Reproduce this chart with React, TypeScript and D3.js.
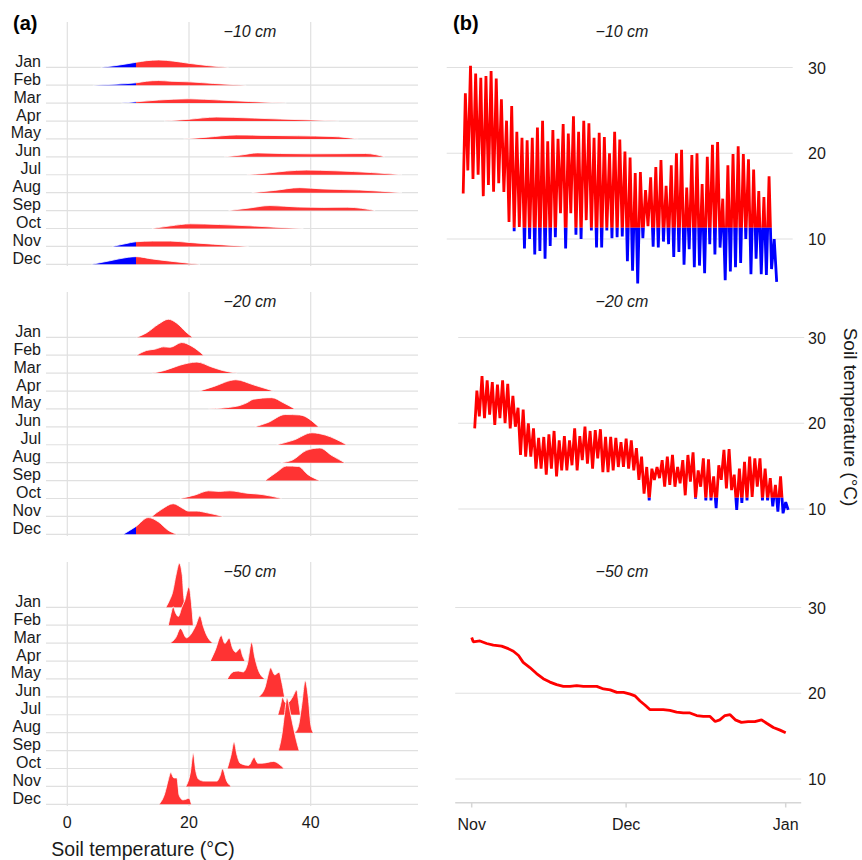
import React from "react";
import * as d3 from "d3";

type Pt = [number, number];

const months = ["Jan", "Feb", "Mar", "Apr", "May", "Jun", "Jul", "Aug", "Sep", "Oct", "Nov", "Dec"];
const depthLabels = ["\u221210 cm", "\u221220 cm", "\u221250 cm"];
const tempTicks = [0, 20, 40];
const seriesTicks = [10, 20, 30];
const dateTicks = [new Date(2019, 10, 1), new Date(2019, 11, 1), new Date(2020, 0, 1)];
const dateTickLabels = ["Nov", "Dec", "Jan"];
const coldLimit = 11.3;

// monthly temperature densities, [°C, density], Jan..Dec
const ridge10: Pt[][] = [
  [[5.5, 0], [8, 0.02], [11.3, 0.057], [13, 0.075], [15, 0.083], [17.5, 0.07], [20, 0.045], [23, 0.02], [26.5, 0]],
  [[4.2, 0], [8, 0.012], [11.3, 0.027], [13, 0.045], [15, 0.053], [17, 0.045], [20, 0.038], [24, 0.02], [29.4, 0]],
  [[8.9, 0], [11.3, 0.015], [15, 0.035], [20, 0.049], [25, 0.035], [30, 0.018], [36, 0]],
  [[15.9, 0], [20, 0.02], [24.5, 0.045], [30, 0.035], [35, 0.022], [40, 0.012], [44.6, 0]],
  [[19.1, 0], [23, 0.02], [27.8, 0.045], [33, 0.04], [38, 0.035], [43.5, 0.028], [47.8, 0]],
  [[25.8, 0], [28.5, 0.02], [31.3, 0.045], [35, 0.038], [40, 0.034], [45, 0.036], [49, 0.038], [52.2, 0]],
  [[29.5, 0], [33, 0.02], [36, 0.042], [39.3, 0.053], [44, 0.045], [50, 0.025], [55, 0]],
  [[30.3, 0], [34, 0.025], [38.2, 0.057], [42, 0.042], [48, 0.03], [55, 0]],
  [[26.5, 0], [30, 0.03], [33.3, 0.057], [38, 0.04], [42, 0.036], [46, 0.038], [50.6, 0]],
  [[13.9, 0], [17, 0.03], [20.2, 0.053], [25, 0.045], [30, 0.03], [34, 0.015], [38.8, 0]],
  [[7.4, 0], [9.5, 0.03], [11.3, 0.053], [14, 0.06], [17, 0.06], [20, 0.045], [24, 0.025], [29.8, 0]],
  [[4.0, 0], [7, 0.04], [10, 0.08], [11.3, 0.087], [14, 0.06], [17, 0.035], [20, 0.012], [21.8, 0]],
];

const ridge20: Pt[][] = [
  [[11.4, 0], [13, 0.05], [15, 0.15], [16.6, 0.205], [18, 0.16], [19.5, 0.06], [20.6, 0]],
  [[11.4, 0], [13, 0.053], [14.5, 0.07], [15.8, 0.095], [16.9, 0.09], [18.8, 0.144], [20.5, 0.1], [22.4, 0]],
  [[13.9, 0], [16, 0.03], [18.5, 0.09], [21.3, 0.125], [23.7, 0.07], [25.5, 0.03], [27.9, 0]],
  [[21.7, 0], [24, 0.05], [27.7, 0.128], [30.6, 0.07], [33.9, 0]],
  [[23.2, 0], [27.8, 0.03], [29.5, 0.07], [30.6, 0.11], [33.6, 0.128], [35.5, 0.07], [37.4, 0]],
  [[30.8, 0], [33, 0.05], [35.8, 0.14], [38.2, 0.135], [41.3, 0]],
  [[34.4, 0], [37.2, 0.053], [40.2, 0.136], [42.4, 0.11], [45.9, 0]],
  [[35.1, 0], [37, 0.03], [39.3, 0.14], [41.5, 0.167], [43.5, 0.08], [45.6, 0]],
  [[32.5, 0], [34.5, 0.1], [36, 0.165], [38, 0.16], [39.5, 0.07], [41.5, 0]],
  [[18.5, 0], [21, 0.04], [23.2, 0.087], [25, 0.08], [26.7, 0.087], [29.5, 0.06], [32, 0.045], [35.2, 0]],
  [[13.9, 0], [15.5, 0.08], [17.4, 0.144], [19, 0.09], [19.9, 0.06], [21.3, 0.06], [23, 0.04], [25.6, 0]],
  [[9.2, 0], [11.3, 0.09], [13.3, 0.19], [15, 0.14], [16.5, 0.05], [18, 0]],
];

const ridge50: Pt[][] = [
  [[16.2, 0], [16.8, 0.08], [17.3, 0.17], [17.9, 0.38], [18.4, 0.5], [18.9, 0.36], [19.1, 0.15], [19.4, 0]],
  [[16.6, 0], [17.0, 0.12], [17.4, 0.21], [17.8, 0.14], [18.25, 0.1], [18.8, 0.2], [19.3, 0.28], [20, 0.44], [20.4, 0.25], [20.7, 0]],
  [[16.9, 0], [17.8, 0.06], [18.6, 0.167], [19.6, 0.06], [20.3, 0.1], [21.1, 0.2], [21.8, 0.31], [22.4, 0.18], [22.9, 0.09], [23.9, 0]],
  [[23.5, 0], [24.3, 0.12], [25.3, 0.29], [25.9, 0.2], [26.6, 0.26], [27.2, 0.14], [27.7, 0.1], [28.4, 0.145], [28.8, 0.06], [29.2, 0]],
  [[26.3, 0], [27.3, 0.083], [28.1, 0.09], [28.9, 0.08], [29.6, 0.17], [30.3, 0.42], [30.8, 0.25], [31.4, 0.1], [32.5, 0]],
  [[31.4, 0], [32.5, 0.11], [33.0, 0.25], [33.4, 0.33], [34.1, 0.25], [34.8, 0.28], [35.3, 0.15], [35.7, 0]],
  [[34.6, 0], [35.0, 0.1], [35.4, 0.2], [35.8, 0.14], [36.3, 0.14], [37.0, 0.2], [37.7, 0.28], [38.0, 0.15], [38.3, 0]],
  [[37.4, 0], [38.0, 0.08], [38.5, 0.3], [39.1, 0.59], [39.6, 0.4], [40.0, 0.1], [40.4, 0]],
  [[34.7, 0], [35.3, 0.2], [35.7, 0.42], [36.1, 0.6], [36.6, 0.45], [37.2, 0.25], [37.7, 0.1], [38.1, 0]],
  [[26.3, 0], [26.9, 0.15], [27.4, 0.3], [27.9, 0.15], [28.4, 0.06], [29.8, 0.035], [30.7, 0.125], [31.3, 0.06], [32, 0.06], [33.9, 0.08], [34.8, 0.05], [35.6, 0]],
  [[19.5, 0], [20.2, 0.15], [20.7, 0.38], [21.1, 0.18], [21.6, 0.08], [22.5, 0.06], [24.6, 0.06], [25.1, 0.12], [25.5, 0.2], [26.2, 0.06], [26.9, 0]],
  [[15.1, 0], [16, 0.12], [16.6, 0.28], [17, 0.36], [17.5, 0.3], [18, 0.3], [18.4, 0.1], [19, 0.05], [19.6, 0.06], [20, 0.07], [20.4, 0]],
];

// Nov 1 - Dec 31: daily maxima and minima
const start10 = 15.3;
const max10 = [
  27.0, 30.2, 29.3, 28.8, 29.0, 29.6, 28.7, 26.3, 23.8, 25.5, 22.5, 21.8, 21.5, 21.8, 23.0, 23.8, 21.4, 22.7, 21.7, 23.4,
  22.3, 24.3, 22.5, 23.8, 23.5, 21.8, 22.4, 21.9, 20.0, 22.5, 21.6, 20.2, 19.5, 17.7, 17.8, 15.7, 17.2, 18.4, 19.2, 16.2,
  18.6, 20.0, 20.4, 16.0, 19.8, 20.0, 16.4, 19.6, 21.0, 21.3, 14.7, 18.6, 19.9, 20.8, 19.9, 19.3, 18.1, 15.6, 14.9, 17.3,
  10.0,
];
const min10 = [
  18.0, 17.0, 17.5, 15.0, 16.3, 15.5, 16.5, 15.5, 12.0, 10.9, 11.4, 8.9, 10.0, 8.2, 8.6, 7.7, 9.2, 10.2, 13.0, 8.9,
  13.0, 10.5, 10.0, 12.2, 11.0, 9.0, 9.0, 11.0, 10.1, 10.2, 10.3, 7.4, 6.3, 4.8, 10.1, 11.5, 9.1, 9.0, 9.7, 9.4,
  7.9, 8.5, 7.0, 8.8, 6.7, 6.9, 6.0, 9.4, 8.2, 9.0, 5.2, 6.2, 6.7, 7.2, 10.0, 5.9, 7.7, 5.9, 5.8, 6.5,
  5.0,
];

const start20 = 19.4;
const max20 = [
  23.8, 25.5, 25.0, 24.8, 24.5, 25.0, 24.6, 23.2, 21.8, 21.6, 20.0, 19.4, 18.3, 18.4, 18.7, 19.1, 18.0, 18.5, 18.0, 19.4,
  18.5, 19.6, 19.1, 19.2, 19.3, 18.4, 18.4, 18.3, 17.8, 18.2, 18.0, 17.1, 16.1, 14.9, 14.7, 14.9, 15.7, 16.1, 16.3, 14.9,
  15.7, 16.3, 16.6, 14.5, 15.9, 15.8, 13.8, 15.1, 16.9, 17.0, 14.0, 14.7, 15.5, 16.1, 15.9, 15.9, 14.7, 13.6, 12.8, 13.8,
  10.8,
];
const min20 = [
  20.8, 20.6, 21.0, 19.8, 20.6, 20.0, 19.4, 19.6, 16.3, 16.1, 16.1, 14.7, 14.7, 14.0, 14.7, 13.8, 14.5, 14.5, 15.1, 14.5,
  15.7, 15.3, 14.7, 15.9, 14.3, 14.3, 14.5, 14.9, 14.9, 14.7, 14.5, 13.4, 11.8, 11.0, 13.4, 13.6, 12.6, 12.8, 12.6, 13.0,
  11.6, 13.2, 11.2, 12.6, 11.0, 11.0, 10.1, 13.4, 12.4, 12.2, 9.9, 10.7, 11.0, 11.4, 12.6, 11.0, 11.0, 10.3, 9.7, 9.5,
  9.9,
];

// -50 cm: days since Nov 1 and temperature
const day50 = [
  0, 0.3, 1.6, 2.9, 4.2, 5.8, 7.1, 8.1, 9.1, 10.0, 11.3, 12.6, 13.9, 15.2, 16.5, 17.8, 19.1, 20.4, 21.7, 23.0,
  24.3, 25.6, 26.9, 28.2, 29.5, 30.8, 31.7, 32.7, 33.7, 34.6, 35.9, 37.2, 38.5, 39.8, 41.1, 42.4, 43.7, 45.0, 46.3, 47.3,
  48.2, 49.2, 50.2, 51.2, 52.4, 53.7, 55.0, 56.3, 57.3, 58.6, 59.9, 61.0,
];
const temp50 = [
  26.5, 26.0, 26.1, 25.8, 25.6, 25.5, 25.2, 24.9, 24.4, 23.6, 23.0, 22.3, 21.7, 21.3, 21.0, 20.8, 20.8, 20.9, 20.8, 20.8,
  20.8, 20.5, 20.4, 20.1, 20.1, 19.9, 19.7, 19.1, 18.6, 18.1, 18.1, 18.1, 18.0, 17.8, 17.7, 17.7, 17.4, 17.3, 17.3, 16.7,
  16.9, 17.4, 17.5, 16.9, 16.6, 16.7, 16.7, 16.9, 16.5, 16.0, 15.7, 15.4,
];

const W = 862;
const H = 860;
const STEP = 270;
const FONT = "'Liberation Sans', Arial, Helvetica, sans-serif";
const RED = "#ff0000";
const BLUE = "#0000ff";
const RIDGE_RED = "#ff3333";
const GRID = "#e0e0e0";
const TEXT = "#1a1a1a";

const PEAK_AT = 0.42;
const TROUGH_AT = 0.9;

function daily(start: number, maxs: number[], mins: number[]): Pt[] {
  const pts: Pt[] = [[0, start]];
  maxs.forEach((m, i) => {
    pts.push([i + PEAK_AT, m]);
    pts.push([i + TROUGH_AT, mins[i]]);
  });
  return pts;
}

const ridges = [ridge10, ridge20, ridge50];
const series: Pt[][] = [
  daily(start10, max10, min10),
  daily(start20, max20, min20),
  day50.map((d, i) => [d, temp50[i]] as Pt),
];

const xT = d3.scaleLinear().domain([0, 40]).range([67.3, 310.7]);
const dens = d3.scaleLinear().domain([0, 0.5]).range([0, 44]);
const rowScale = (k: number) =>
  d3.scalePoint<string>().domain(months).range([67.3 + k * STEP, 264.3 + k * STEP]);

const xShift = [-8.5, 3, 0];
const timeScale = (k: number) =>
  d3.scaleTime().domain([dateTicks[0], dateTicks[2]]).range([471.7 + xShift[k], 785.7 + xShift[k]]);
const tempScale = (k: number) =>
  d3.scaleLinear().domain([10, 30]).range([239 + k * STEP, 67.5 + k * STEP]);

const dayToDate = (d: number) => new Date(dateTicks[0].getTime() + d * 864e5);

const RidgePanel = ({ k }: { k: number }) => {
  const row = rowScale(k);
  const top = 22 + k * STEP;
  return (
    <g>
      {tempTicks.map((t) => (
        <line key={t} x1={xT(t)} x2={xT(t)} y1={top} y2={top + 244} stroke={GRID} strokeWidth={1.2} />
      ))}
      {months.map((m) => (
        <line key={m} x1={46} x2={418} y1={row(m)} y2={row(m)} stroke={GRID} strokeWidth={1.2} />
      ))}
      {ridges[k].map((pts, i) => {
        const base = row(months[i]) as number;
        const area = d3
          .area<Pt>()
          .x((d) => xT(d[0]))
          .y0(base)
          .y1((d) => base - dens(d[1]))
          .curve(d3.curveMonotoneX);
        const ridgeTop = d3
          .line<Pt>()
          .x((d) => xT(d[0]))
          .y((d) => base - dens(d[1]))
          .curve(d3.curveMonotoneX);
        const a = area(pts) || "";
        return (
          <g key={i}>
            <path d={a} fill={BLUE} clipPath="url(#ridge-cold)" />
            <path d={a} fill={RIDGE_RED} clipPath="url(#ridge-warm)" />
            <path d={ridgeTop(pts) || ""} fill="none" stroke="#ffffff" strokeWidth={0.8} />
          </g>
        );
      })}
      {months.map((m) => (
        <text key={m} x={41} y={(row(m) as number) - 0.5} textAnchor="end" fontSize={16} fill={TEXT}>
          {m}
        </text>
      ))}
      <text x={250} y={37 + k * STEP} textAnchor="middle" fontSize={16} fontStyle="italic" fill={TEXT}>
        {depthLabels[k]}
      </text>
    </g>
  );
};

const SeriesPanel = ({ k }: { k: number }) => {
  const x = timeScale(k);
  const y = tempScale(k);
  const [r0, r1] = x.range();
  const line = d3
    .line<Pt>()
    .x((d) => x(dayToDate(d[0])))
    .y((d) => y(d[1]));
  const d = line(series[k]) || "";
  const yCut = y(coldLimit);
  const yBottom = k * STEP + 300;
  return (
    <g>
      <defs>
        <clipPath id={`warm-${k}`}>
          <rect x={430} y={k * STEP} width={432} height={yCut - k * STEP} />
        </clipPath>
        <clipPath id={`cold-${k}`}>
          <rect x={430} y={yCut} width={432} height={yBottom - yCut} />
        </clipPath>
      </defs>
      {seriesTicks.map((t) => (
        <g key={t}>
          <line x1={r0 - 16.5} x2={r1 + 15.5} y1={y(t)} y2={y(t)} stroke={GRID} strokeWidth={1.2} />
          <text x={808} y={y(t) + 6} fontSize={16} fill={TEXT}>
            {t}
          </text>
        </g>
      ))}
      <path d={d} fill="none" stroke={RED} strokeWidth={2.8} strokeLinejoin="bevel" clipPath={`url(#warm-${k})`} />
      <path d={d} fill="none" stroke={BLUE} strokeWidth={2.8} strokeLinejoin="bevel" clipPath={`url(#cold-${k})`} />
      <text x={622} y={37 + k * STEP} textAnchor="middle" fontSize={16} fontStyle="italic" fill={TEXT}>
        {depthLabels[k]}
      </text>
      {k === 2 && (
        <g>
          <line x1={r0 - 16.5} x2={r1 + 15.5} y1={802.7} y2={802.7} stroke="#d6d6d6" strokeWidth={1.5} />
          {dateTicks.map((t, i) => (
            <g key={i}>
              <line x1={x(t)} x2={x(t)} y1={802.7} y2={807.5} stroke="#d6d6d6" strokeWidth={1.5} />
              <text x={x(t)} y={830} textAnchor="middle" fontSize={16} fill={TEXT}>
                {dateTickLabels[i]}
              </text>
            </g>
          ))}
        </g>
      )}
    </g>
  );
};

export default function App() {
  const cut = xT(coldLimit);
  return (
    <svg
      width={W}
      height={H}
      fontFamily={FONT}
      style={{ position: "absolute", left: 0, top: 0, background: "#ffffff" }}
    >
      <defs>
        <clipPath id="ridge-cold">
          <rect x={0} y={0} width={cut} height={H} />
        </clipPath>
        <clipPath id="ridge-warm">
          <rect x={cut} y={0} width={W - cut} height={H} />
        </clipPath>
      </defs>
      <rect width={W} height={H} fill="#ffffff" />
      {[0, 1, 2].map((k) => (
        <RidgePanel key={k} k={k} />
      ))}
      {tempTicks.map((t) => (
        <text key={t} x={xT(t)} y={828} textAnchor="middle" fontSize={16} fill={TEXT}>
          {t}
        </text>
      ))}
      <text x={143} y={856} textAnchor="middle" fontSize={19.5} fill={TEXT}>
        Soil temperature (°C)
      </text>
      {[0, 1, 2].map((k) => (
        <SeriesPanel key={k} k={k} />
      ))}
      <text transform="translate(844,417) rotate(90)" textAnchor="middle" fontSize={19} fill={TEXT}>
        Soil temperature (°C)
      </text>
      <text x={13} y={30} fontSize={20} fontWeight="bold" fill="#000">
        (a)
      </text>
      <text x={453} y={30} fontSize={20} fontWeight="bold" fill="#000">
        (b)
      </text>
    </svg>
  );
}
